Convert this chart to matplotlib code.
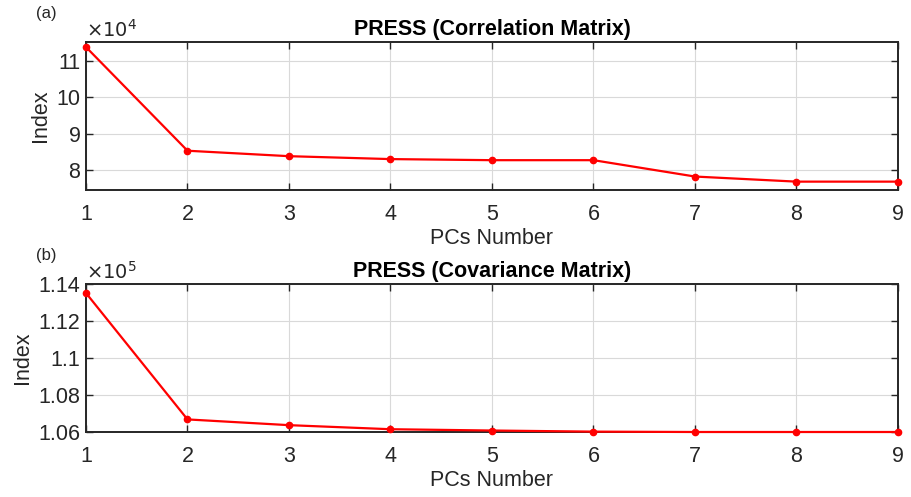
import matplotlib.pyplot as plt
from matplotlib.ticker import FuncFormatter

plt.rcParams['font.family'] = ['Liberation Sans', 'DejaVu Sans']

pcs = [1, 2, 3, 4, 5, 6, 7, 8, 9]
press_corr = [113800, 85300, 83800, 83000, 82700, 82700, 78200, 76800, 76800]
press_cov = [113510, 106680, 106370, 106150, 106080, 106020, 106000, 106000, 106000]

panels = [
    ('(a)', 'PRESS (Correlation Matrix)', press_corr, 1e4, r'$\times10^4$',
     (74500, 115200), [80000, 90000, 100000, 110000]),
    ('(b)', 'PRESS (Covariance Matrix)', press_cov, 1e5, r'$\times10^5$',
     (106000, 114000), [106000, 108000, 110000, 112000, 114000]),
]

fig = plt.figure(figsize=(9.12, 4.97), dpi=100)
boxes = [[86 / 912, 1 - 190 / 497, 812 / 912, 148 / 497],
         [86 / 912, 1 - 432 / 497, 812 / 912, 148 / 497]]

for box, (tag, title, values, scale, exp, ylim, yticks) in zip(boxes, panels):
    ax = fig.add_axes(box)
    ax.plot(pcs, values, color='#ff0000', linewidth=1.6, marker='o',
            markersize=4.5, clip_on=False, zorder=3)
    ax.set_xlim(1, 9)
    ax.set_ylim(*ylim)
    ax.set_xticks(pcs)
    ax.set_yticks(yticks)
    ax.yaxis.set_major_formatter(FuncFormatter(lambda v, p, s=scale: '%g' % round(v / s, 4)))
    ax.grid(True, color='#d9d9d9', linewidth=0.8)
    ax.set_axisbelow(True)
    ax.tick_params(direction='in', top=True, right=True, length=5, width=1,
                   labelsize=15.5, color='#262626', labelcolor='#262626')
    ax.tick_params(axis='x', pad=10)
    ax.tick_params(axis='y', pad=4)
    for sp in ax.spines.values():
        sp.set_linewidth(1.4)
        sp.set_color('#262626')
    ax.set_title(title, fontsize=15.5, fontweight='bold', pad=5)
    ax.set_xlabel('PCs Number', fontsize=15.5, color='#262626', labelpad=2)
    ax.set_ylabel('Index', fontsize=15.5, color='#262626', labelpad=4)
    ax.text(0.0, 1.01, exp, transform=ax.transAxes, fontsize=14,
            color='#262626', ha='left', va='bottom')
    ax.text(-0.061, 1.14, tag, transform=ax.transAxes, fontsize=12,
            color='#262626', ha='left', va='bottom')

fig.savefig('out.png', dpi=100)
